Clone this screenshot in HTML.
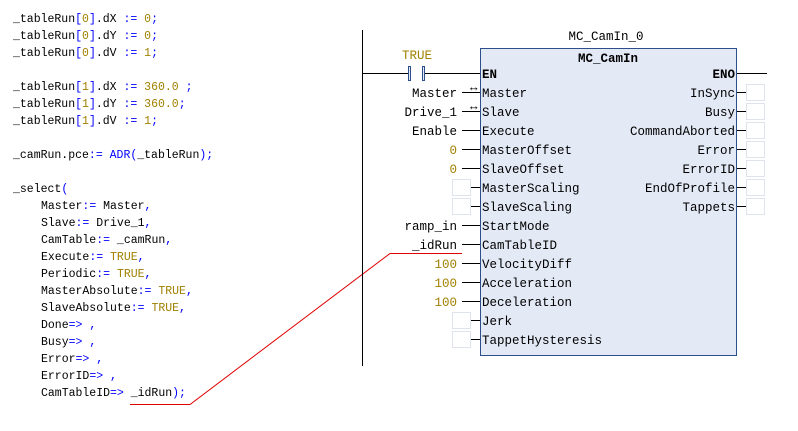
<!DOCTYPE html>
<html><head><meta charset="utf-8"><style>
body{margin:0;background:#fff;width:798px;height:431px;overflow:hidden}
svg{display:block}
text{font-family:"Liberation Mono",monospace;font-size:12.5px}
.c text{font-size:11.5px}
.o{fill:#0000ff}.n{fill:#a08000}.k{fill:#000}
</style></head><body>
<svg width="798" height="431" xmlns="http://www.w3.org/2000/svg">
<g class="c">
<text x="13" y="22">_tableRun<tspan class="o">[</tspan><tspan class="n">0</tspan><tspan class="o">]</tspan>.dX <tspan class="o">:=</tspan> <tspan class="n">0</tspan><tspan class="o">;</tspan></text>
<text x="13" y="39">_tableRun<tspan class="o">[</tspan><tspan class="n">0</tspan><tspan class="o">]</tspan>.dY <tspan class="o">:=</tspan> <tspan class="n">0</tspan><tspan class="o">;</tspan></text>
<text x="13" y="56">_tableRun<tspan class="o">[</tspan><tspan class="n">0</tspan><tspan class="o">]</tspan>.dV <tspan class="o">:=</tspan> <tspan class="n">1</tspan><tspan class="o">;</tspan></text>
<text x="13" y="90">_tableRun<tspan class="o">[</tspan><tspan class="n">1</tspan><tspan class="o">]</tspan>.dX <tspan class="o">:=</tspan> <tspan class="n">360.0</tspan> <tspan class="o">;</tspan></text>
<text x="13" y="107">_tableRun<tspan class="o">[</tspan><tspan class="n">1</tspan><tspan class="o">]</tspan>.dY <tspan class="o">:=</tspan> <tspan class="n">360.0</tspan><tspan class="o">;</tspan></text>
<text x="13" y="124">_tableRun<tspan class="o">[</tspan><tspan class="n">1</tspan><tspan class="o">]</tspan>.dV <tspan class="o">:=</tspan> <tspan class="n">1</tspan><tspan class="o">;</tspan></text>
<text x="13" y="158">_camRun.pce<tspan class="o">:=</tspan> <tspan class="o">ADR(</tspan>_tableRun<tspan class="o">);</tspan></text>
<text x="13" y="192">_select<tspan class="o">(</tspan></text>
<text x="41" y="209">Master<tspan class="o">:=</tspan> Master<tspan class="o">,</tspan></text>
<text x="41" y="226">Slave<tspan class="o">:=</tspan> Drive_1<tspan class="o">,</tspan></text>
<text x="41" y="243">CamTable<tspan class="o">:=</tspan> _camRun<tspan class="o">,</tspan></text>
<text x="41" y="260">Execute<tspan class="o">:=</tspan> <tspan class="n">TRUE</tspan><tspan class="o">,</tspan></text>
<text x="41" y="277">Periodic<tspan class="o">:=</tspan> <tspan class="n">TRUE</tspan><tspan class="o">,</tspan></text>
<text x="41" y="294">MasterAbsolute<tspan class="o">:=</tspan> <tspan class="n">TRUE</tspan><tspan class="o">,</tspan></text>
<text x="41" y="311">SlaveAbsolute<tspan class="o">:=</tspan> <tspan class="n">TRUE</tspan><tspan class="o">,</tspan></text>
<text x="41" y="328">Done<tspan class="o">=&gt; ,</tspan></text>
<text x="41" y="345">Busy<tspan class="o">=&gt; ,</tspan></text>
<text x="41" y="362">Error<tspan class="o">=&gt; ,</tspan></text>
<text x="41" y="379">ErrorID<tspan class="o">=&gt; ,</tspan></text>
<text x="41" y="396">CamTableID<tspan class="o">=&gt;</tspan> _idRun<tspan class="o">);</tspan></text>
</g>
<polyline points="130,404.5 190,404.5 390,253.5 462,253.5" fill="none" stroke="#e00000" stroke-width="1"/>
<line x1="362.5" y1="30" x2="362.5" y2="366" stroke="#000"/>
<text x="606" y="40" text-anchor="middle">MC_CamIn_0</text>
<rect x="480.5" y="48.5" width="256" height="307" fill="#e3e9f5" stroke="#2c4f8c"/>
<text x="608" y="62" text-anchor="middle" font-weight="bold">MC_CamIn</text>
<text x="402" y="59" class="n">TRUE</text>
<line x1="362" y1="73.5" x2="409" y2="73.5" stroke="#000"/>
<line x1="424" y1="73.5" x2="480" y2="73.5" stroke="#000"/>
<rect x="408.5" y="66.5" width="2" height="14" fill="#e3e9f5" stroke="#2c4f8c"/>
<rect x="422.5" y="66.5" width="2" height="14" fill="#e3e9f5" stroke="#2c4f8c"/>
<line x1="737" y1="73.5" x2="767" y2="73.5" stroke="#000"/>
<g font-weight="bold"><text x="482" y="78">EN</text><text x="735" y="78" text-anchor="end">ENO</text></g>
<g stroke="#000">
<line x1="462" y1="92.5" x2="480" y2="92.5"/><line x1="462" y1="111.5" x2="480" y2="111.5"/>
<line x1="462" y1="130.5" x2="480" y2="130.5"/><line x1="462" y1="149.5" x2="480" y2="149.5"/>
<line x1="462" y1="168.5" x2="480" y2="168.5"/><line x1="470" y1="187.5" x2="480" y2="187.5"/>
<line x1="470" y1="206.5" x2="480" y2="206.5"/><line x1="462" y1="225.5" x2="480" y2="225.5"/>
<line x1="462" y1="244.5" x2="480" y2="244.5"/><line x1="462" y1="263.5" x2="480" y2="263.5"/>
<line x1="462" y1="282.5" x2="480" y2="282.5"/><line x1="462" y1="301.5" x2="480" y2="301.5"/>
<line x1="470" y1="320.5" x2="480" y2="320.5"/><line x1="470" y1="339.5" x2="480" y2="339.5"/>
<line x1="737" y1="92.5" x2="746" y2="92.5"/><line x1="737" y1="111.5" x2="746" y2="111.5"/>
<line x1="737" y1="130.5" x2="746" y2="130.5"/><line x1="737" y1="149.5" x2="746" y2="149.5"/>
<line x1="737" y1="168.5" x2="746" y2="168.5"/><line x1="737" y1="187.5" x2="746" y2="187.5"/>
<line x1="737" y1="206.5" x2="746" y2="206.5"/>
</g>
<g fill="#fff" stroke="#dfe3ee">
<rect x="452.5" y="179.5" width="18" height="16"/><rect x="452.5" y="198.5" width="18" height="16"/>
<rect x="452.5" y="312.5" width="18" height="16"/><rect x="452.5" y="331.5" width="18" height="16"/>
<rect x="746.5" y="84.5" width="18" height="16"/><rect x="746.5" y="103.5" width="18" height="16"/>
<rect x="746.5" y="122.5" width="18" height="16"/><rect x="746.5" y="141.5" width="18" height="16"/>
<rect x="746.5" y="160.5" width="18" height="16"/><rect x="746.5" y="179.5" width="18" height="16"/>
<rect x="746.5" y="198.5" width="18" height="16"/>
</g>
<text x="470" y="91" font-size="11">↔</text><text x="470" y="110" font-size="11">↔</text>
<g>
<text x="482" y="97">Master</text><text x="482" y="116">Slave</text><text x="482" y="135">Execute</text>
<text x="482" y="154">MasterOffset</text><text x="482" y="173">SlaveOffset</text><text x="482" y="192">MasterScaling</text>
<text x="482" y="211">SlaveScaling</text><text x="482" y="230">StartMode</text><text x="482" y="249">CamTableID</text>
<text x="482" y="268">VelocityDiff</text><text x="482" y="287">Acceleration</text><text x="482" y="306">Deceleration</text>
<text x="482" y="325">Jerk</text><text x="482" y="344">TappetHysteresis</text>
</g>
<g text-anchor="end">
<text x="735" y="97">InSync</text><text x="735" y="116">Busy</text><text x="735" y="135">CommandAborted</text>
<text x="735" y="154">Error</text><text x="735" y="173">ErrorID</text><text x="735" y="192">EndOfProfile</text>
<text x="735" y="211">Tappets</text>
<text x="457" y="97">Master</text><text x="457" y="116">Drive_1</text><text x="457" y="135">Enable</text>
<text x="457" y="154" class="n">0</text><text x="457" y="173" class="n">0</text>
<text x="457" y="230">ramp_in</text><text x="457" y="249">_idRun</text>
<text x="457" y="268" class="n">100</text><text x="457" y="287" class="n">100</text><text x="457" y="306" class="n">100</text>
</g>
</svg>
</body></html>
